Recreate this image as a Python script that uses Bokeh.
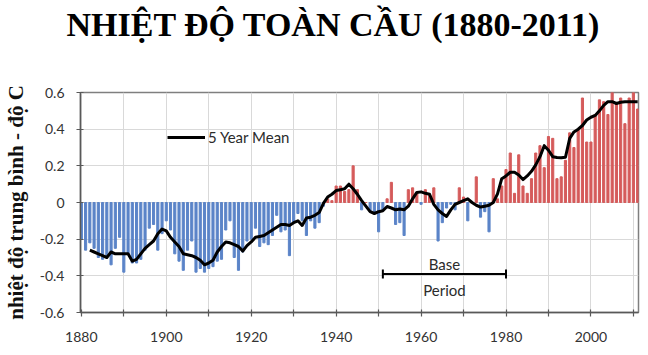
from bokeh.plotting import figure
from bokeh.models import (ColumnDataSource, FixedTicker, Label, Arrow, TeeHead, Range1d)
from bokeh.embed import file_html
from bokeh.resources import INLINE

# ---------------- data ----------------
title_text = "NHIỆT ĐỘ TOÀN CẦU (1880-2011)"
y_axis_title = "nhiệt độ trung bình - độ C"
legend_text = "5 Year Mean"
base_labels = ["Base", "Period"]
base_period = [1951, 1980]
base_level = -0.39

years = list(range(1880, 2012))
anomaly = [
    -0.20, -0.26, -0.22, -0.25, -0.30, -0.31, -0.29, -0.34, -0.25, -0.19,   # 1880s
    -0.38, -0.28, -0.33, -0.33, -0.31, -0.26, -0.14, -0.12, -0.26, -0.17,   # 1890s
    -0.10, -0.15, -0.28, -0.32, -0.37, -0.26, -0.21, -0.38, -0.36, -0.38,   # 1900s
    -0.36, -0.35, -0.32, -0.31, -0.15, -0.10, -0.30, -0.37, -0.27, -0.21,   # 1910s
    -0.20, -0.14, -0.24, -0.22, -0.23, -0.18, -0.07, -0.16, -0.15, -0.29,   # 1920s
    -0.11, -0.06, -0.10, -0.18, -0.10, -0.14, -0.11, -0.02, 0.02, 0.01,     # 1930s
    0.09, 0.09, 0.06, 0.07, 0.20, 0.07, -0.04, 0.00, -0.05, -0.06,          # 1940s
    -0.16, -0.04, 0.02, 0.11, -0.12, -0.11, -0.18, 0.07, 0.08, 0.05,        # 1950s
    -0.01, 0.07, 0.04, 0.08, -0.21, -0.11, -0.03, -0.01, -0.04, 0.08,       # 1960s
    0.03, -0.10, 0.00, 0.14, -0.08, -0.05, -0.16, 0.13, 0.02, 0.09,         # 1970s
    0.18, 0.27, 0.05, 0.26, 0.09, 0.05, 0.13, 0.27, 0.31, 0.19,             # 1980s
    0.36, 0.35, 0.13, 0.14, 0.23, 0.38, 0.30, 0.40, 0.57, 0.33,             # 1990s
    0.33, 0.48, 0.56, 0.55, 0.48, 0.62, 0.54, 0.57, 0.43, 0.57,             # 2000s
    0.63, 0.51,                                                             # 2010-2011
]

mean_years = list(range(1882, 2012))
mean_5yr = [
    -0.26, -0.27, -0.28, -0.29, -0.30, -0.27, -0.28, -0.28,                 # 1882-1889
    -0.28, -0.28, -0.32, -0.31, -0.28, -0.25, -0.23, -0.21, -0.17, -0.145,  # 1890s
    -0.155, -0.19, -0.215, -0.24, -0.28, -0.285, -0.29, -0.30, -0.315, -0.34,  # 1900s
    -0.33, -0.315, -0.27, -0.24, -0.215, -0.22, -0.23, -0.24, -0.265, -0.235,  # 1910s
    -0.215, -0.19, -0.185, -0.18, -0.165, -0.15, -0.135, -0.12, -0.12, -0.125, # 1920s
    -0.11, -0.10, -0.125, -0.085, -0.08, -0.07, -0.055, -0.005, 0.03, 0.045,  # 1930s
    0.065, 0.07, 0.075, 0.10, 0.075, 0.045, 0.01, -0.02, -0.05, -0.06,      # 1940s
    -0.05, -0.045, -0.022, -0.03, -0.04, -0.035, -0.04, -0.02, 0.02, 0.055, # 1950s
    0.058, 0.05, 0.045, -0.01, -0.04, -0.06, -0.076, -0.04, -0.01, 0.0,     # 1960s
    0.01, 0.02, 0.0, -0.015, -0.025, -0.02, -0.015, 0.0, 0.047, 0.13,       # 1970s
    0.145, 0.165, 0.165, 0.15, 0.125, 0.145, 0.17, 0.205, 0.25, 0.31,       # 1980s
    0.285, 0.25, 0.245, 0.244, 0.247, 0.35, 0.385, 0.40, 0.42, 0.45,        # 1990s
    0.465, 0.475, 0.50, 0.53, 0.55, 0.55, 0.54, 0.547, 0.55, 0.55,          # 2000s
    0.55, 0.55,                                                             # 2010-2011
]

x_major = [1880, 1900, 1920, 1940, 1960, 1980, 2000]
x_minor = [1890, 1910, 1930, 1950, 1970, 1990, 2010]
y_ticks = [-0.6, -0.4, -0.2, 0.0, 0.2, 0.4, 0.6]
y_tick_labels = ["-0.6", "-0.4", "-0.2", "0", "0.2", "0.4", "0.6"]

# ---------------- style ----------------
BLUE = "#5b84c8"
RED = "#d55b5b"
GRID = "#d9d9d9"
AXIS = "#595959"
TXT = "#2b2b2b"

colors = [RED if v >= 0 else BLUE for v in anomaly]
src = ColumnDataSource(dict(x=years, top=anomaly, color=colors))

# the blank second line only reserves room so the title sits near the top edge
p = figure(width=648, height=355,
           x_range=Range1d(1879.8, 2011.2), y_range=Range1d(-0.6, 0.6),
           output_backend="svg", toolbar_location=None,
           min_border_left=76, min_border_right=10,
           min_border_top=92, min_border_bottom=43,
           title=title_text + "\n ")
p.background_fill_color = "white"
p.border_fill_color = "white"
p.outline_line_color = "#7f7f7f"
p.outline_line_width = 1.5

# title
p.title.align = "left"
p.title.offset = -14
p.title.vertical_align = "top"
p.title.standoff = 0
p.title.text_line_height = 1.31
p.title.text_font = "Liberation Serif"
p.title.text_font_style = "bold"
p.title.text_font_size = "34px"
p.title.text_color = "black"

p.vbar(x="x", top="top", bottom=0, width=0.5, color="color", source=src)
p.line(mean_years, mean_5yr, line_width=3, color="black", line_join="round",
       legend_label=legend_text)

# axes
p.xaxis.ticker = FixedTicker(ticks=x_major, minor_ticks=x_minor)
p.yaxis.ticker = FixedTicker(ticks=y_ticks)
p.yaxis.major_label_overrides = {t: s for t, s in zip(y_ticks, y_tick_labels)}
for ax in (p.xaxis[0], p.yaxis[0]):
    ax.axis_line_color = AXIS
    ax.axis_line_width = 1.5
    ax.major_tick_line_color = AXIS
    ax.major_tick_line_width = 1.2
    ax.major_tick_in = 3
    ax.major_tick_out = 4
    ax.minor_tick_line_color = AXIS
    ax.minor_tick_line_width = 1.2
    ax.minor_tick_in = 3
    ax.minor_tick_out = 4
    ax.major_label_text_font = "Lato"
    ax.major_label_text_font_size = "14px"
    ax.major_label_text_color = "#333333"
p.yaxis.major_label_standoff = 12
p.xaxis.major_label_standoff = 15

p.yaxis.axis_label = y_axis_title
p.yaxis.axis_label_text_font = "Liberation Serif"
p.yaxis.axis_label_text_font_style = "bold"
p.yaxis.axis_label_text_font_size = "21px"
p.yaxis.axis_label_text_color = "#111111"
p.yaxis.axis_label_standoff = 9

# grid
p.xgrid.grid_line_color = GRID
p.xgrid.minor_grid_line_color = GRID
p.ygrid.grid_line_color = GRID

# legend
lg = p.legend[0]
lg.location = (87, 166)
lg.padding = 0
lg.margin = 0
lg.spacing = 0
lg.border_line_alpha = 0
lg.background_fill_alpha = 0
lg.glyph_width = 38
lg.glyph_height = 14
lg.label_height = 14
lg.label_standoff = 3
lg.label_text_font = "Lato"
lg.label_text_font_size = "15px"
lg.label_text_color = TXT

# base period annotation
p.add_layout(Arrow(x_start=base_period[0], y_start=base_level,
                   x_end=base_period[1], y_end=base_level,
                   start=TeeHead(size=9, line_width=2, line_color="black"),
                   end=TeeHead(size=9, line_width=2, line_color="black"),
                   line_width=2, line_color="black"))
mid = (base_period[0] + base_period[1]) / 2
p.add_layout(Label(x=mid, y=base_level, y_offset=10, text=base_labels[0],
                   text_align="center", text_baseline="alphabetic",
                   text_font="Lato", text_font_size="15px", text_color=TXT))
p.add_layout(Label(x=mid, y=base_level, y_offset=-7, text=base_labels[1],
                   text_align="center", text_baseline="top",
                   text_font="Lato", text_font_size="15px", text_color=TXT))

open("out.html", "w").write(file_html(p, INLINE))
